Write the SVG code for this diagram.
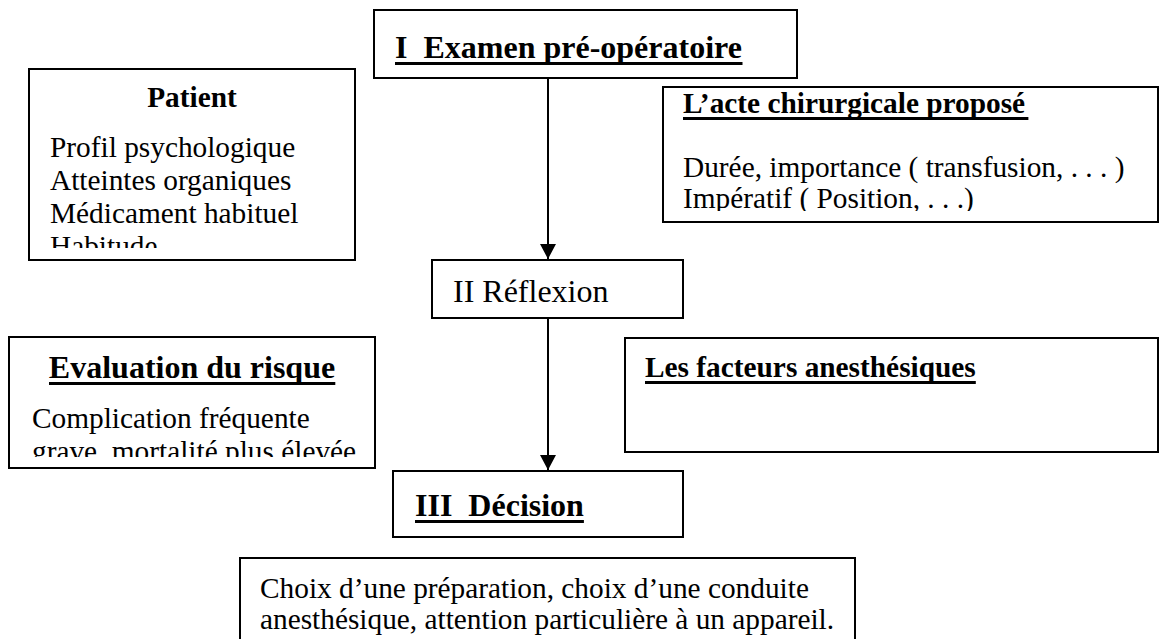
<svg xmlns="http://www.w3.org/2000/svg" width="1162" height="639" viewBox="0 0 1162 639">
<style>
.box{fill:#fff;stroke:#000;stroke-width:2}
.t{font-family:"Liberation Serif","Times New Roman",serif;fill:#000;white-space:pre}
.r{font-size:29.33px}
.b{font-weight:bold}
.h{font-size:32px}
.ul{fill:#000}
.conn{stroke:#000;stroke-width:2;fill:none}
</style>
<defs>
<marker id="arr" markerWidth="8" markerHeight="8" refX="7.5" refY="4" orient="auto" markerUnits="strokeWidth">
<path d="M0,0 L7.5,4 L0,8 Z" fill="#000"/>
</marker>
<clipPath id="cpPatient"><rect x="29" y="69" width="326" height="179"/></clipPath>
<clipPath id="cpActe"><rect x="663" y="87" width="495" height="124"/></clipPath>
<clipPath id="cpEval"><rect x="9" y="337" width="366" height="120"/></clipPath>
</defs>
<rect width="1162" height="639" fill="#fff"/>
<g id="connectors">
<line class="conn" x1="548" y1="78" x2="548" y2="259" marker-end="url(#arr)"/>
<line class="conn" x1="548" y1="318" x2="548" y2="470" marker-end="url(#arr)"/>
</g>
<g id="examen">
<rect class="box" x="374" y="10" width="423" height="68"/>
<text class="t b h" x="395" y="58">I  Examen pré-opératoire</text>
<rect class="ul" x="395" y="62" width="347.5" height="3"/>
</g>
<g id="patient">
<rect class="box" x="29" y="69" width="326" height="191"/>
<g clip-path="url(#cpPatient)">
<text class="t b r" x="192" y="107" text-anchor="middle">Patient</text>
<text class="t r" x="50" y="157">Profil psychologique</text>
<text class="t r" x="50" y="190">Atteintes organiques</text>
<text class="t r" x="50" y="223">Médicament habituel</text>
<text class="t r" x="50" y="256">Habitude</text>
</g>
</g>
<g id="acte">
<rect class="box" x="663" y="87" width="495" height="135"/>
<g clip-path="url(#cpActe)">
<text class="t b r" x="683" y="113">L’acte chirurgicale proposé</text>
<rect class="ul" x="683" y="117" width="345.4" height="3"/>
<text class="t r" x="683" y="177">Durée, importance ( transfusion, . . . )</text>
<text class="t r" x="683" y="208">Impératif ( Position, . . .)</text>
</g>
</g>
<g id="reflexion">
<rect class="box" x="432" y="260" width="251" height="58"/>
<text class="t h" x="453" y="302">II Réflexion</text>
</g>
<g id="evaluation">
<rect class="box" x="9" y="337" width="366" height="131"/>
<g clip-path="url(#cpEval)">
<text class="t b h" x="192" y="378" text-anchor="middle">Evaluation du risque</text>
<rect class="ul" x="49" y="382" width="286.3" height="3"/>
<text class="t r" x="32" y="428">Complication fréquente</text>
<text class="t r" x="32" y="461">grave, mortalité plus élevée</text>
</g>
</g>
<g id="facteurs">
<rect class="box" x="625" y="338" width="533" height="114"/>
<text class="t b r" x="645" y="377">Les facteurs anesthésiques</text>
<rect class="ul" x="645" y="381" width="330.8" height="3"/>
</g>
<g id="decision">
<rect class="box" x="393" y="471" width="290" height="66"/>
<text class="t b h" x="415" y="516">III  Décision</text>
<rect class="ul" x="415" y="520" width="168.9" height="3"/>
</g>
<g id="choix">
<rect class="box" x="240" y="558" width="615" height="100"/>
<text class="t r" x="260" y="598">Choix d’une préparation, choix d’une conduite</text>
<text class="t r" x="260" y="629">anesthésique, attention particulière à un appareil.</text>
</g>
</svg>
